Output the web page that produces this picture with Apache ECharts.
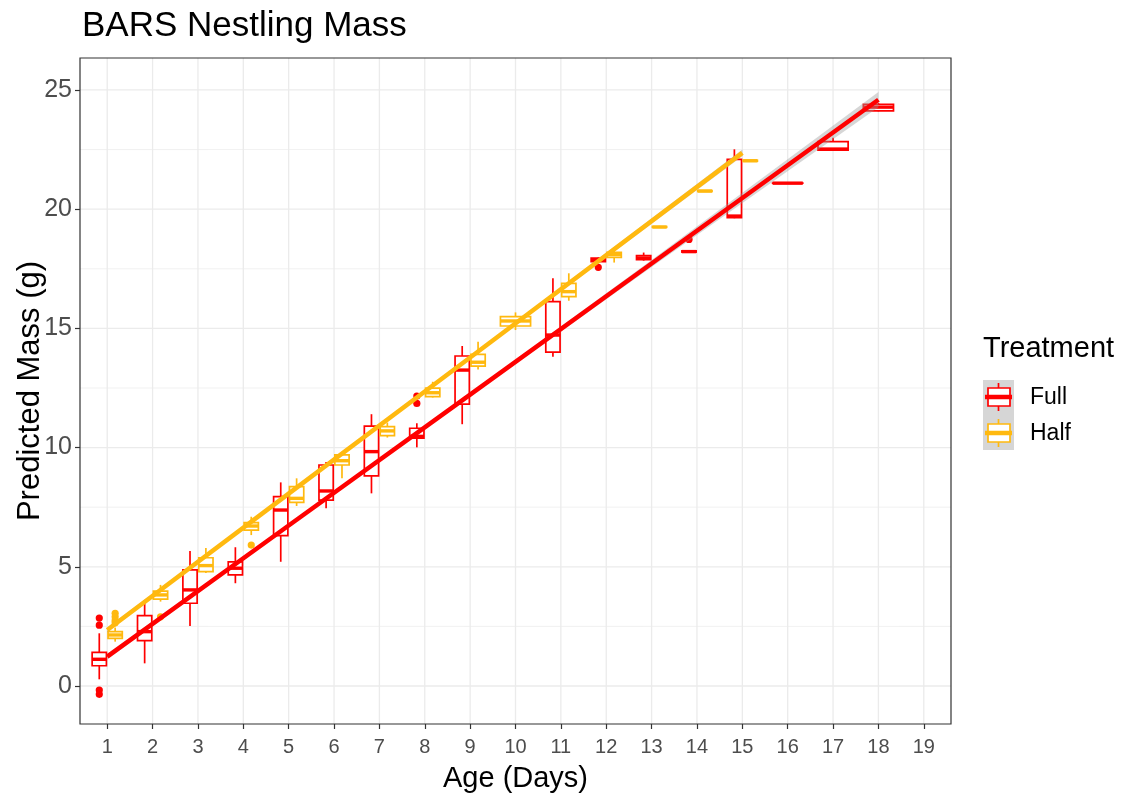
<!DOCTYPE html>
<html><head><meta charset="utf-8">
<script src="https://cdn.jsdelivr.net/npm/echarts@6/dist/echarts.min.js"></script>
<style>html,body{margin:0;padding:0;background:#fff}#chart{width:1125px;height:798px}</style>
</head><body><div id="chart"></div>
<script>
// ---------- data ----------
const ageTicks = [1,2,3,4,5,6,7,8,9,10,11,12,13,14,15,16,17,18,19];
const yTicks = [0,5,10,15,20,25];
const yMinorGrid = [2.5,7.5,12.5,17.5,22.5];
const treatments = ['Full','Half'];
// [age, lowerWhisker, q1, median, q3, upperWhisker]
const fullBoxes = [
  [1, 0.28, 0.85, 1.12, 1.41, 2.21],
  [2, 0.95, 1.90, 2.28, 2.95, 3.61],
  [3, 2.52, 3.47, 4.03, 4.87, 5.66],
  [4, 4.31, 4.66, 4.94, 5.21, 5.82],
  [5, 5.21, 6.31, 7.38, 7.94, 8.54],
  [6, 7.45, 7.80, 8.18, 9.27, 9.40],
  [7, 8.08, 8.81, 9.83, 10.90, 11.40],
  [8, 10.01, 10.40, 10.47, 10.81, 11.02],
  [9, 10.98, 11.82, 13.25, 13.84, 14.26],
  [11, 13.81, 14.00, 14.72, 16.12, 17.10],
  [12, 17.75, 17.80, 17.88, 17.95, 17.97],
  [13, 17.84, 17.88, 17.95, 18.05, 18.18],
  [14, 18.20, 18.20, 18.22, 18.25, 18.25],
  [15, 19.62, 19.64, 19.71, 22.09, 22.51],
  [16, 21.09, 21.09, 21.09, 21.09, 21.09],
  [17, 22.48, 22.48, 22.52, 22.83, 23.00],
  [18, 24.10, 24.12, 24.28, 24.40, 24.45]
];
const halfBoxes = [
  [1, 1.86, 2.00, 2.14, 2.28, 2.45],
  [2, 3.54, 3.64, 3.82, 3.98, 4.24],
  [3, 4.74, 4.80, 5.05, 5.38, 5.79],
  [4, 6.33, 6.54, 6.71, 6.85, 7.10],
  [5, 7.55, 7.70, 7.87, 8.36, 8.71],
  [6, 8.71, 9.27, 9.45, 9.69, 9.75],
  [7, 10.42, 10.50, 10.70, 10.88, 11.05],
  [8, 12.10, 12.14, 12.30, 12.49, 12.76],
  [9, 13.28, 13.42, 13.58, 13.91, 14.44],
  [10, 14.93, 15.10, 15.31, 15.49, 15.67],
  [11, 16.16, 16.33, 16.54, 16.89, 17.31],
  [12, 17.76, 17.98, 18.10, 18.19, 18.40],
  [13, 19.22, 19.24, 19.25, 19.27, 19.30],
  [14, 20.72, 20.74, 20.76, 20.78, 20.80],
  [15, 22.00, 22.01, 22.03, 22.05, 22.05]
];
// [age, value]
const fullOutliers = [[1, 2.85], [1, 2.55], [1, -0.17], [1, -0.35], [8, 12.16], [8, 11.85], [12, 17.56], [14, 18.73]];
const halfOutliers = [[1, 3.05], [1, 2.90], [1, 2.75], [1, 2.65], [2, 2.90], [4, 5.91]];
// fitted smooth: [age, fit, lower, upper]
const fullSmooth = [[1, 1.23, 1.11, 1.35], [5, 6.73, 6.66, 6.80], [9, 12.22, 12.15, 12.29], [13, 17.72, 17.57, 17.87], [18, 24.59, 24.27, 24.91]];
const halfSmooth = [[1, 2.35, 2.25, 2.45], [5, 8.07, 8.01, 8.13], [9, 13.78, 13.72, 13.84], [15, 22.36, 22.22, 22.50]];

// ---------- styling ----------
const FONT = 'Liberation Sans';
const COLORS = { Full: '#FF0000', Half: '#FFB90F' };
const BAND = 'rgba(153,153,153,0.4)';
const HALFW = 0.35; // dodge half-width in axis units

const fullAges = fullBoxes.map(d => d[0]);
const halfAges = halfBoxes.map(d => d[0]);

function dodgeRange(age, idx) {
  const other = idx === 0 ? halfAges : fullAges;
  if (other.indexOf(age) < 0) return [age - HALFW, age + HALFW];
  return idx === 0 ? [age - HALFW, age] : [age, age + HALFW];
}

function boxRenderer(idx, color) {
  return function (params, api) {
    const age = api.value(0);
    const lo = api.value(1), q1 = api.value(2), med = api.value(3), q3 = api.value(4), hi = api.value(5);
    const r = dodgeRange(age, idx);
    const cx = api.coord([(r[0] + r[1]) / 2, 0])[0];
    const x0 = api.coord([r[0], 0])[0];
    const x1 = api.coord([r[1], 0])[0];
    const yLo = api.coord([age, lo])[1], yQ1 = api.coord([age, q1])[1], yMed = api.coord([age, med])[1];
    const yQ3 = api.coord([age, q3])[1], yHi = api.coord([age, hi])[1];
    return {
      type: 'group',
      children: [
        { type: 'line', shape: { x1: cx, y1: yLo, x2: cx, y2: yQ1 }, style: { stroke: color, lineWidth: 1.7 } },
        { type: 'line', shape: { x1: cx, y1: yQ3, x2: cx, y2: yHi }, style: { stroke: color, lineWidth: 1.7 } },
        { type: 'rect', shape: { x: x0 + 0.8, y: yQ3, width: x1 - x0 - 1.6, height: Math.max(yQ1 - yQ3, 0.1) }, style: { fill: '#fff', stroke: color, lineWidth: 1.7 } },
        { type: 'line', shape: { x1: x0 + 0.8, y1: yMed, x2: x1 - 0.8, y2: yMed }, style: { stroke: color, lineWidth: 3.4 } }
      ]
    };
  };
}

function outlierRenderer(idx, color) {
  return function (params, api) {
    const age = api.value(0);
    const r = dodgeRange(age, idx);
    const p = api.coord([(r[0] + r[1]) / 2, api.value(1)]);
    return { type: 'circle', shape: { cx: p[0], cy: p[1], r: 3.6 }, style: { fill: color } };
  };
}

function bandRenderer(rows) {
  return function (params, api) {
    if (params.dataIndex !== 0) return null;
    const up = rows.map(d => api.coord([d[0], d[3]]));
    const low = rows.slice().reverse().map(d => api.coord([d[0], d[2]]));
    return { type: 'polygon', shape: { points: up.concat(low) }, style: { fill: BAND } };
  };
}

function hGridRenderer(width) {
  return function (params, api) {
    const cs = params.coordSys;
    const y = api.coord([1, api.value(0)])[1];
    return { type: 'line', shape: { x1: cs.x, y1: y, x2: cs.x + cs.width, y2: y }, style: { stroke: '#EBEBEB', lineWidth: width } };
  };
}
function vGridRenderer(params, api) {
  const cs = params.coordSys;
  const x = api.coord([api.value(0), 0])[0];
  return { type: 'line', shape: { x1: x, y1: cs.y, x2: x, y2: cs.y + cs.height }, style: { stroke: '#EBEBEB', lineWidth: 1.3 } };
}
function borderRenderer(params, api) {
  const cs = params.coordSys;
  return { type: 'rect', shape: { x: cs.x, y: cs.y, width: cs.width, height: cs.height }, style: { fill: 'none', stroke: '#333333', lineWidth: 1.2 } };
}

const chart = echarts.init(document.getElementById('chart'), null, { renderer: 'canvas' });

const option = {
  animation: false,
  backgroundColor: '#ffffff',
  textStyle: { fontFamily: FONT },
  title: {
    text: 'BARS Nestling Mass', left: 82, top: 9, padding: 0,
    textStyle: { fontFamily: FONT, fontSize: 35, fontWeight: 'normal', color: '#000' }
  },
  grid: { left: 80, top: 58, width: 871, height: 666, show: false, containLabel: false, outerBoundsMode: 'none' },
  xAxis: {
    type: 'value', min: 0.4, max: 19.6,
    name: 'Age (Days)', nameLocation: 'middle', nameGap: 40,
    nameTextStyle: { fontFamily: FONT, fontSize: 29, color: '#000' },
    axisLine: { show: false, onZero: false },
    splitLine: { show: false },
    axisTick: { show: true, customValues: ageTicks, length: 5, lineStyle: { color: '#333333', width: 1.2 } },
    axisLabel: { customValues: ageTicks, margin: 13, fontFamily: FONT, fontSize: 20, color: '#4D4D4D',
      formatter: v => (Math.abs(v - Math.round(v)) < 1e-6 ? String(Math.round(v)) : '') }
  },
  yAxis: {
    type: 'value', min: -1.594, max: 26.34,
    name: 'Predicted Mass (g)', nameLocation: 'middle', nameGap: 34, nameMoveOverlap: false,
    nameTextStyle: { fontFamily: FONT, fontSize: 31, color: '#000' },
    axisLine: { show: false, onZero: false },
    splitLine: { show: false },
    axisTick: { show: true, customValues: yTicks, length: 5, lineStyle: { color: '#333333', width: 1.2 } },
    axisLabel: { customValues: yTicks, margin: 8, fontFamily: FONT, fontSize: 25, color: '#4D4D4D',
      formatter: v => (yTicks.indexOf(v) >= 0 ? String(v) : '') }
  },
  series: [
    { type: 'custom', name: 'gridMinor', silent: true, z: 1, renderItem: hGridRenderer(0.7), data: yMinorGrid.map(v => [v]) },
    { type: 'custom', name: 'gridMajor', silent: true, z: 1, renderItem: hGridRenderer(1.3), data: yTicks.map(v => [v]) },
    { type: 'custom', name: 'gridX', silent: true, z: 1, renderItem: vGridRenderer, data: ageTicks.map(v => [v]) },
    { type: 'custom', name: 'Full', z: 2, renderItem: boxRenderer(0, COLORS.Full), data: fullBoxes, encode: { x: 0, y: [1, 2, 3, 4, 5] } },
    { type: 'custom', name: 'Half', z: 2, renderItem: boxRenderer(1, COLORS.Half), data: halfBoxes, encode: { x: 0, y: [1, 2, 3, 4, 5] } },
    { type: 'custom', name: 'Full outliers', z: 2, renderItem: outlierRenderer(0, COLORS.Full), data: fullOutliers },
    { type: 'custom', name: 'Half outliers', z: 2, renderItem: outlierRenderer(1, COLORS.Half), data: halfOutliers },
    { type: 'custom', name: 'Full band', silent: true, z: 3, renderItem: bandRenderer(fullSmooth), data: fullSmooth },
    { type: 'custom', name: 'Half band', silent: true, z: 3, renderItem: bandRenderer(halfSmooth), data: halfSmooth },
    { type: 'line', name: 'Full fit', z: 4, showSymbol: false, data: fullSmooth.map(d => [d[0], d[1]]),
      lineStyle: { color: COLORS.Full, width: 4.5 }, itemStyle: { color: COLORS.Full } },
    { type: 'line', name: 'Half fit', z: 4, showSymbol: false, data: halfSmooth.map(d => [d[0], d[1]]),
      lineStyle: { color: COLORS.Half, width: 4.5 }, itemStyle: { color: COLORS.Half } },
    { type: 'custom', name: 'border', silent: true, z: 6, renderItem: borderRenderer, data: [[0]] }
  ],
  graphic: [
    { type: 'text', left: 983, top: 334, style: { text: 'Treatment', font: '29px "Liberation Sans"', fill: '#000' } },
    { type: 'rect', shape: { x: 983, y: 380, width: 31, height: 70 }, style: { fill: '#D6D6D6' } },
    // Full key
    { type: 'line', shape: { x1: 998.5, y1: 383, x2: 998.5, y2: 411 }, style: { stroke: COLORS.Full, lineWidth: 1.7 } },
    { type: 'rect', shape: { x: 988, y: 388, width: 22, height: 18 }, style: { fill: '#fff', stroke: COLORS.Full, lineWidth: 1.7 } },
    { type: 'line', shape: { x1: 985, y1: 397, x2: 1012, y2: 397 }, style: { stroke: COLORS.Full, lineWidth: 4.5 } },
    // Half key
    { type: 'line', shape: { x1: 998.5, y1: 419, x2: 998.5, y2: 447 }, style: { stroke: COLORS.Half, lineWidth: 1.7 } },
    { type: 'rect', shape: { x: 988, y: 424, width: 22, height: 18 }, style: { fill: '#fff', stroke: COLORS.Half, lineWidth: 1.7 } },
    { type: 'line', shape: { x1: 985, y1: 433, x2: 1012, y2: 433 }, style: { stroke: COLORS.Half, lineWidth: 4.5 } },
    { type: 'text', left: 1030, top: 386, style: { text: treatments[0], font: '23px "Liberation Sans"', fill: '#000' } },
    { type: 'text', left: 1030, top: 422, style: { text: treatments[1], font: '23px "Liberation Sans"', fill: '#000' } }
  ]
};
chart.setOption(option);
</script>
</body></html>
